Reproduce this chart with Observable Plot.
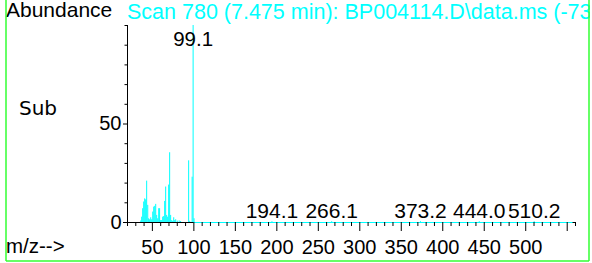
<!DOCTYPE html>
<html><head><meta charset="utf-8">
<script src="https://cdn.jsdelivr.net/npm/d3@7"></script>
<script src="https://cdn.jsdelivr.net/npm/@observablehq/plot@0.6"></script>
<style>
body{margin:0;background:#fff;overflow:hidden}
#chart svg{display:block}
</style>
</head><body><div id="chart"></div>
<script>
// Spectrum peaks (m/z, relative abundance)
const peakMz = [36.0,37.1,38.3,39.5,40.7,41.9,43.1,44.4,45.5,46.7,48.0,49.2,50.4,51.6,52.8,54.0,55.2,56.4,57.6,58.7,60.0,61.2,62.4,63.6,64.8,66.0,67.2,68.4,69.6,70.8,72.0,73.3,74.5,75.7,76.9,78.1,80.0,82.3,84.0,93.7,95.0,97.9,99.1,100.2,194.1,266.1,373.2,444.0,510.2];
const peakAbundance = [0.8,2.7,7,10.4,12,11.5,21,8.7,1.9,1.4,2.4,1.4,5.3,7.8,8.2,9.2,3.6,1.9,7,7,1,1,2.7,3,10.7,18,3.6,2.7,19,35.4,3.6,1,0.6,2.4,1,1.4,0.7,0.8,0.5,31.3,0.6,23,100,1.9,0.4,0.4,0.4,0.4,0.4];

// Labelled peaks
const topLabelMz = [99.1];
const topLabelAbundance = [100];
const topLabelText = ["99.1"];
const baseLabelMz = [194.1,266.1,373.2,444.0,510.2];
const baseLabelAbundance = [0.4,0.4,0.4,0.4,0.4];
const baseLabelText = ["194.1","266.1","373.2","444.0","510.2"];

// Axes
const xDomain = [20, 560];
const yDomain = [0, 100];
const majorXTicks = [50,100,150,200,250,300,350,400,450,500,550];
const xTickLabels = ["50","100","150","200","250","300","350","400","450","500",""];
const minorXTicks = [20,30,40,60,70,80,90,110,120,130,140,160,170,180,190,210,220,230,240,260,270,280,290,310,320,330,340,360,370,380,390,410,420,430,440,460,470,480,490,510,520,530,540,560];
const majorYTicks = [0, 50];
const yTickLabels = ["0", "50"];
const minorYTicks = [10,20,30,40,60,70,80,90,100];
const noiseSpan = [100, 557];

// Texts
const yAxisTitle = "Abundance";
const scanTitle = "Scan 780 (7.475 min): BP004114.D\\data.ms (-73";
const sideLabel = "Sub";
const xAxisTitle = "m/z-->";

const peaks = peakMz.map((m, i) => ({mz: m, ab: peakAbundance[i]}));
const topLabels = topLabelMz.map((m, i) => ({mz: m, ab: topLabelAbundance[i], t: topLabelText[i]}));
const baseLabels = baseLabelMz.map((m, i) => ({mz: m, ab: baseLabelAbundance[i], t: baseLabelText[i]}));

const CYAN = "#00ffff";
const FONT = "'Liberation Sans', Arial, sans-serif";

const plot = Plot.plot({
  width: 592, height: 263,
  marginLeft: 127, marginRight: 17, marginTop: 25, marginBottom: 41,
  style: {fontFamily: FONT, fontSize: "20px", color: "black", background: "white"},
  x: {domain: xDomain},
  y: {domain: yDomain},
  marks: [
    Plot.ruleY([yDomain[0]], {stroke: "black"}),
    Plot.ruleY([yDomain[0]], {x1: noiseSpan[0], x2: noiseSpan[1], stroke: CYAN}),
    Plot.ruleX(peaks, {x: "mz", y1: 0, y2: "ab", stroke: CYAN, strokeWidth: 1}),
    Plot.ruleX([xDomain[0]], {stroke: "black"}),
    Plot.axisX({ticks: majorXTicks, tickSize: 9, tickPadding: 8, tickFormat: d => xTickLabels[majorXTicks.indexOf(d)], label: null, fontSize: 20}),
    Plot.axisX({ticks: minorXTicks, tickSize: 4, tickFormat: () => "", label: null}),
    Plot.axisY({ticks: majorYTicks, tickSize: 4, tickPadding: 2, tickFormat: d => yTickLabels[majorYTicks.indexOf(d)], label: null, fontSize: 20}),
    Plot.axisY({ticks: minorYTicks, tickSize: 2.5, tickFormat: () => "", label: null}),
    Plot.text(topLabels, {x: "mz", y: "ab", text: "t", dy: 13.6, fontSize: 20.5, fill: "black"}),
    Plot.text(baseLabels, {x: "mz", y: "ab", text: "t", dy: -10.8, fontSize: 21, fill: "black"})
  ]
});

const svg = d3.select(plot);
const addText = (x, y, str, fam, size, fill) => svg.append("text")
  .attr("x", x).attr("y", y).attr("text-anchor", "start")
  .attr("font-family", fam).attr("font-size", size).attr("fill", fill).text(str);
addText(6, 17, yAxisTitle, FONT, 21, "black");
addText(127, 19, scanTitle, FONT, 21.5, CYAN);
addText(19, 115, sideLabel, "'DejaVu Sans', sans-serif", 20, "black");
addText(6, 253, xAxisTitle, FONT, 20.5, "black");
svg.append("rect").attr("x", 590).attr("y", 0).attr("width", 2).attr("height", 263).attr("fill", "white");
const frame = svg.append("g").attr("stroke", "#33ff33").attr("stroke-width", 1.5).attr("fill", "none");
frame.append("line").attr("x1", 6).attr("x2", 6).attr("y1", 0).attr("y2", 261);
frame.append("line").attr("x1", 589).attr("x2", 589).attr("y1", 0).attr("y2", 261);
frame.append("line").attr("x1", 6).attr("x2", 589).attr("y1", 261).attr("y2", 261);

document.getElementById("chart").appendChild(plot);
</script>
</body></html>
